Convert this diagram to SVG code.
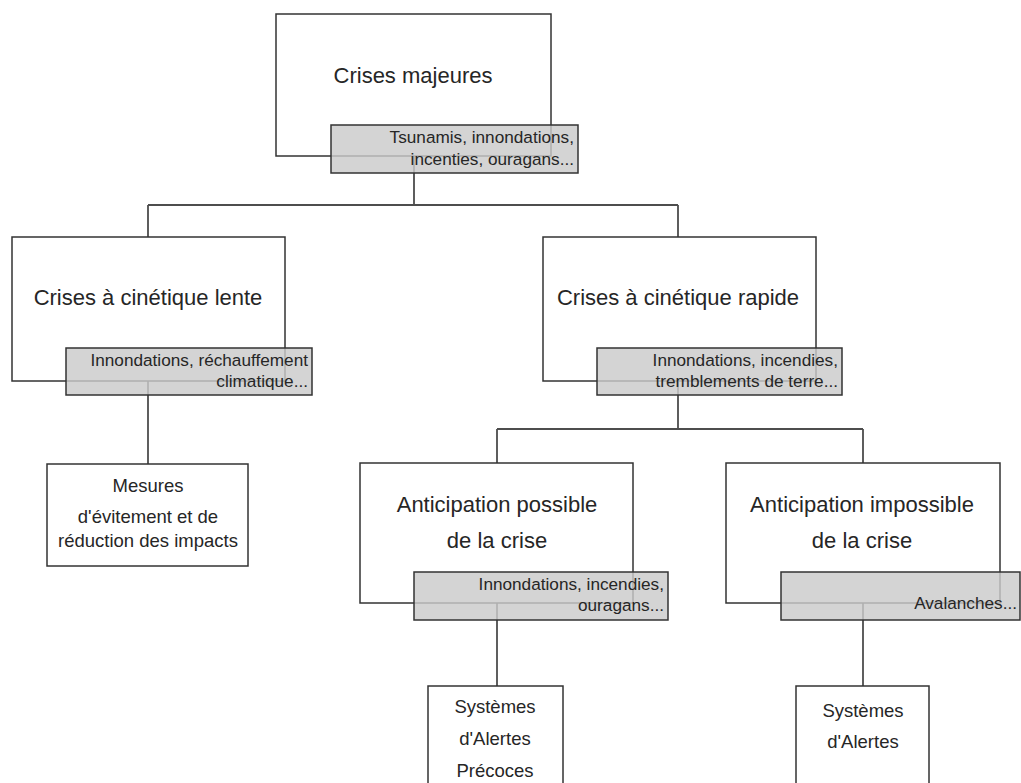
<svg xmlns="http://www.w3.org/2000/svg" width="1021" height="783" viewBox="0 0 1021 783">
<style>
.bg{fill:#ffffff}
.node{fill:#ffffff;stroke:#333333;stroke-width:1.5}
.lab{fill:#cbcbcb;fill-opacity:0.82;stroke:#333333;stroke-width:1.5}
.conn{fill:none;stroke:#4d4d4d;stroke-width:1.8}
text{font-family:"Liberation Sans",Arial,sans-serif;fill:#262626}
.t{font-size:22px;text-anchor:middle}
.l{font-size:17.2px;text-anchor:end}
.s{font-size:18.5px;text-anchor:middle}
</style>
<rect class="bg" x="0" y="0" width="1021" height="783"/>
<g id="connectors">
<path class="conn" d="M414,156 V205 M148,205 H678 M148,205 V237 M678,205 V237"/>
<path class="conn" d="M148,381 V464"/>
<path class="conn" d="M678,381 V429 M497,429 H863 M497,429 V463 M863,429 V463"/>
<path class="conn" d="M497,603 V686"/>
<path class="conn" d="M863,603 V686"/>
</g>
<g id="n-crises-majeures">
<rect class="node" x="276" y="14" width="275" height="142"/>
<text class="t" x="413" y="83">Crises majeures</text>
<rect class="lab" x="331" y="125" width="247" height="48"/>
<text class="l" x="574" y="143">Tsunamis, innondations,</text>
<text class="l" x="574" y="165">incenties, ouragans...</text>
</g>
<g id="n-lente">
<rect class="node" x="12" y="237" width="273" height="144"/>
<text class="t" x="148" y="305">Crises à cinétique lente</text>
<rect class="lab" x="66" y="348" width="246" height="47"/>
<text class="l" x="308" y="366">Innondations, réchauffement</text>
<text class="l" x="308" y="387">climatique...</text>
</g>
<g id="n-rapide">
<rect class="node" x="543" y="237" width="273" height="144"/>
<text class="t" x="678" y="305">Crises à cinétique rapide</text>
<rect class="lab" x="597" y="348" width="245" height="47"/>
<text class="l" x="838" y="366">Innondations, incendies,</text>
<text class="l" x="838" y="387">tremblements de terre...</text>
</g>
<g id="n-mesures">
<rect class="node" x="47" y="464" width="201" height="102"/>
<text class="s" x="148" y="492">Mesures</text>
<text class="s" x="148" y="523">d'évitement et de</text>
<text class="s" x="148" y="547">réduction des impacts</text>
</g>
<g id="n-possible">
<rect class="node" x="360" y="463" width="273" height="140"/>
<text class="t" x="497" y="512">Anticipation possible</text>
<text class="t" x="497" y="548">de la crise</text>
<rect class="lab" x="414" y="572" width="254" height="48"/>
<text class="l" x="664" y="590">Innondations, incendies,</text>
<text class="l" x="664" y="611">ouragans...</text>
</g>
<g id="n-impossible">
<rect class="node" x="726" y="463" width="274" height="140"/>
<text class="t" x="862" y="512">Anticipation impossible</text>
<text class="t" x="862" y="548">de la crise</text>
<rect class="lab" x="781" y="572" width="239" height="48"/>
<text class="l" x="1017" y="609">Avalanches...</text>
</g>
<g id="n-systemes-precoces">
<rect class="node" x="428" y="686" width="135" height="110"/>
<text class="s" x="495" y="713">Systèmes</text>
<text class="s" x="495" y="745">d'Alertes</text>
<text class="s" x="495" y="777">Précoces</text>
</g>
<g id="n-systemes">
<rect class="node" x="796" y="686" width="133" height="110"/>
<text class="s" x="863" y="717">Systèmes</text>
<text class="s" x="863" y="748">d'Alertes</text>
</g>
</svg>
